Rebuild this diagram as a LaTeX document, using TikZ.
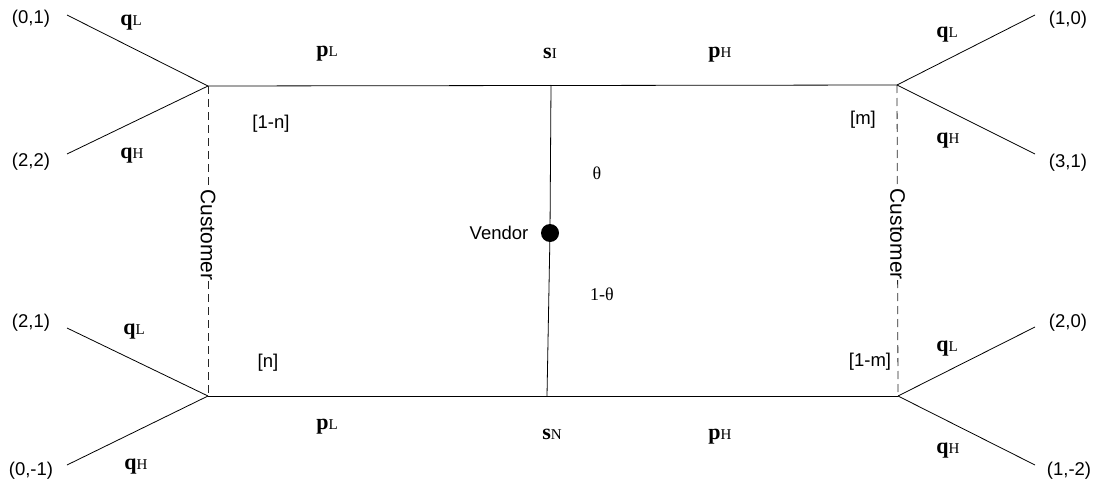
\documentclass[tikz,border=0pt]{standalone}
\usepackage{fontspec}
\setmainfont{Liberation Serif}
\setsansfont{Liberation Sans}
\newcommand\blab[2]{{\fontsize{22}{22}\selectfont\bfseries #1}{\fontsize{15}{15}\selectfont #2}}
\begin{document}
\begin{tikzpicture}[x=1pt,y=-1pt,
  edge/.style={line width=0.8pt,black},
  dashline/.style={line width=0.8pt,dash pattern=on 8pt off 5pt,black!85},
  sans/.style={font=\sffamily\fontsize{18.5}{18.5}\selectfont,inner sep=1pt,text=black},
  cust/.style={font=\sffamily\fontsize{21}{21}\selectfont,text=black,fill=white,rotate=-90,inner sep=0.5pt},
  greek/.style={font=\fontsize{18}{18}\selectfont,inner sep=1pt},
  bl/.style={inner sep=1pt}]
\useasboundingbox (0,0) rectangle (1093,487);
% junction coordinates
\coordinate (TL) at (208,86);
\coordinate (TR) at (897,85);
\coordinate (BL) at (208,396);
\coordinate (BR) at (898,396);
\coordinate (MT) at (551,85);
\coordinate (MB) at (547,396);
% leaves
\coordinate (l1) at (67,15);
\coordinate (l2) at (67,154);
\coordinate (l3) at (67,328);
\coordinate (l4) at (67,465);
\coordinate (r1) at (1035,15);
\coordinate (r2) at (1035,154);
\coordinate (r3) at (1035,327);
\coordinate (r4) at (1035,465);
% vendor
\node[circle,fill=black,minimum size=18pt,inner sep=0pt] (V) at (550,233) {};
\node[sans] (Vt) at (499,233) {Vendor};
% main lines
\draw[edge] (TL) -- (TR);
\draw[edge] (BL) -- (BR);
\draw[edge] (MT) -- (V) -- (MB);
\draw[edge] (l1) -- (TL);
\draw[edge] (l2) -- (TL);
\draw[edge] (l3) -- (BL);
\draw[edge] (l4) -- (BL);
\draw[edge] (TR) -- (r1);
\draw[edge] (TR) -- (r2);
\draw[edge] (BR) -- (r3);
\draw[edge] (BR) -- (r4);
% dashed customer lines
\draw[dashline] (TL) -- (BL) node[pos=0.48,cust] (CL) {Customer};
\draw[dashline] (TR) -- (BR) node[pos=0.48,cust] (CR) {Customer};
% payoff labels
\node[sans] (p1) at (31,19) {(0,1)};
\node[sans] (p2) at (31,162) {(2,2)};
\node[sans] (p3) at (31,323) {(2,1)};
\node[sans] (p4) at (31,471) {(0,-1)};
\node[sans] (p5) at (1068,20) {(1,0)};
\node[sans] (p6) at (1068,163) {(3,1)};
\node[sans] (p7) at (1068,323) {(2,0)};
\node[sans] (p8) at (1069,471) {(1,-2)};
% q labels
\node[bl] (q1) at (131,23) {\blab{q}{L}};
\node[bl] (q2) at (132,156) {\blab{q}{H}};
\node[bl] (q3) at (134,332) {\blab{q}{L}};
\node[bl] (q4) at (136,467) {\blab{q}{H}};
\node[bl] (q5) at (947,35) {\blab{q}{L}};
\node[bl] (q6) at (948,141) {\blab{q}{H}};
\node[bl] (q7) at (947,349) {\blab{q}{L}};
\node[bl] (q8) at (948,451) {\blab{q}{H}};
% p and s labels
\node[bl] (pa) at (327,54) {\blab{p}{L}};
\node[bl] (sa) at (550,53) {\blab{s}{I}};
\node[bl] (pb) at (720,55) {\blab{p}{H}};
\node[bl] (pc) at (327,427) {\blab{p}{L}};
\node[bl] (sb) at (552,434) {\blab{s}{N}};
\node[bl] (pd) at (720,437) {\blab{p}{H}};
% probabilities
\node[sans] (n1) at (271,124) {[1-n]};
\node[sans] (n2) at (268,363) {[n]};
\node[sans] (m1) at (863,120) {[m]};
\node[sans] (m2) at (870,362) {[1-m]};
\node[greek] (th) at (597,173) {θ};
\node[greek] (th2) at (602,294) {1-θ};
\end{tikzpicture}
\end{document}
